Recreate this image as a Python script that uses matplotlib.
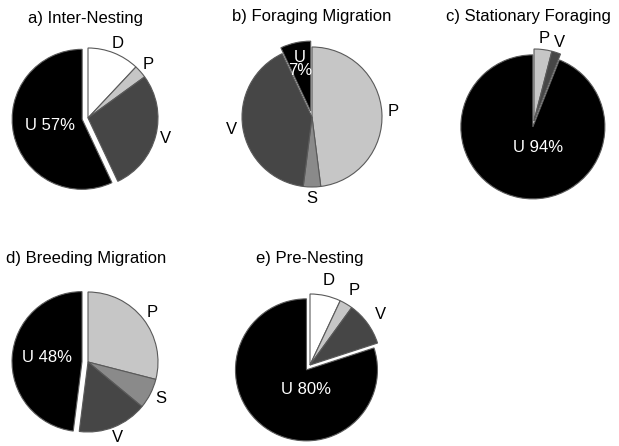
import numpy as np
import matplotlib
matplotlib.use("Agg")
import matplotlib.pyplot as plt

plt.rcParams["font.family"] = ["Liberation Sans", "DejaVu Sans"]

# Share of time (%) per state, clockwise from 12 o'clock, U (unknown) last
titles = ["a) Inter-Nesting", "b) Foraging Migration", "c) Stationary Foraging",
          "d) Breeding Migration", "e) Pre-Nesting"]

cats_a = ["D", "P", "V", "U"]
vals_a = [12, 3, 28, 57]
cats_b = ["P", "S", "V", "U"]
vals_b = [48, 4, 41, 7]
cats_c = ["P", "V", "U"]
vals_c = [4, 2, 94]
cats_d = ["P", "S", "V", "U"]
vals_d = [29, 7, 16, 48]
cats_e = ["D", "P", "V", "U"]
vals_e = [7, 3, 10, 80]

all_cats = [cats_a, cats_b, cats_c, cats_d, cats_e]
all_vals = [vals_a, vals_b, vals_c, vals_d, vals_e]

color_map = {"D": "white", "P": "#c6c6c6", "S": "#8a8a8a", "V": "#464646", "U": "black"}

W, H = 619, 446

# layout in pixels: pie center, radius, title center, label distance, U label position
layout = [
    dict(c=(88, 118), r=70, t=(86, 18), ld=1.15, u=(50, 125), sep=" "),
    dict(c=(312, 117), r=70, t=(312, 17), ld=1.16, u=(300, 64), sep="\n"),
    dict(c=(534, 121), r=72, t=(528, 17), ld=1.15, u=(538, 148), sep=" "),
    dict(c=(88, 362), r=70, t=(86, 259), ld=1.16, u=(47, 358), sep=" "),
    dict(c=(310, 365), r=71, t=(310, 259), ld=1.22, u=(306, 390), sep=" "),
]
EXPLODE = 6

fig = plt.figure(figsize=(W / 100, H / 100), dpi=100)
ax = fig.add_axes([0, 0, 1, 1])

for title, cats, vals, lay in zip(titles, all_cats, all_vals, layout):
    cx, cy = lay["c"]
    r = lay["r"]
    explode = [EXPLODE if c == "U" else 0 for c in cats]
    ax.pie(vals, colors=[color_map[c] for c in cats], startangle=90,
           counterclock=False, center=(cx, H - cy), radius=r, explode=explode,
           wedgeprops=dict(edgecolor="#5a5a5a", linewidth=0.8))

    # outer letter labels at the wedge mid-angles
    cum = np.cumsum([0] + vals[:-1])
    for c, v, s in zip(cats, vals, cum):
        if c == "U":
            continue
        ang = np.deg2rad(90 - 360 * (s + v / 2) / 100)
        ax.text(cx + lay["ld"] * r * np.cos(ang), H - cy + lay["ld"] * r * np.sin(ang),
                c, ha="center", va="center", fontsize=12, color="black")

    uval = vals[cats.index("U")]
    ax.text(lay["u"][0], H - lay["u"][1], f"U{lay['sep']}{uval}%", ha="center",
            va="center", fontsize=12, color="white", linespacing=0.9)

    ax.text(lay["t"][0], H - lay["t"][1], title, ha="center", va="center",
            fontsize=12, color="black")

ax.set_xlim(0, W)
ax.set_ylim(0, H)
ax.set_aspect("equal")
ax.axis("off")

fig.savefig("out.png", dpi=100)
